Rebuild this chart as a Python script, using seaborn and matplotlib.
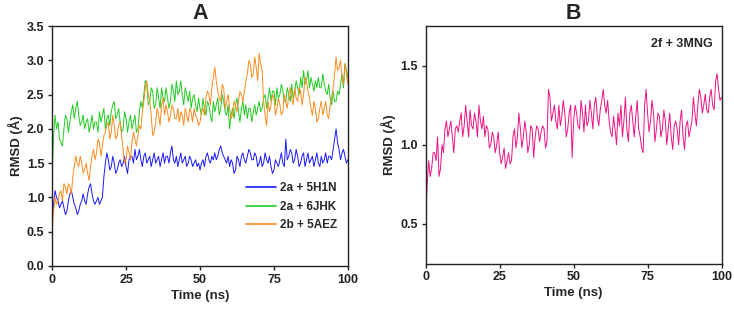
import numpy as np
import pandas as pd
import matplotlib
matplotlib.use("Agg")
import matplotlib.pyplot as plt
import seaborn as sns

# readings at whole nanoseconds (0..100) and at half nanoseconds (0.5..99.5)
time_whole = [float(t) for t in range(0, 101)]
time_half = [t + 0.5 for t in range(0, 100)]

blue_whole = [0.65, 1.10, 0.95, 0.90, 0.85, 0.80, 1.05, 1.00, 0.85, 0.80,
              0.95, 0.95, 1.05, 1.20, 0.95, 0.95, 0.90, 1.00, 1.50, 1.55,
              1.45, 1.50, 1.40, 1.55, 1.50, 1.45, 1.55, 1.60, 1.70, 1.60,
              1.55, 1.60, 1.50, 1.60, 1.55, 1.50, 1.60, 1.55, 1.50, 1.60,
              1.65, 1.55, 1.60, 1.55, 1.50, 1.60, 1.50, 1.55, 1.50, 1.45,
              1.40, 1.55, 1.60, 1.55, 1.60, 1.65, 1.60, 1.75, 1.60, 1.50,
              1.45, 1.50, 1.40, 1.55, 1.60, 1.55, 1.60, 1.65, 1.55, 1.60,
              1.50, 1.45, 1.65, 1.50, 1.45, 1.40, 1.50, 1.55, 1.50, 1.85,
              1.60, 1.65, 1.55, 1.60, 1.50, 1.65, 1.55, 1.50, 1.60, 1.55,
              1.50, 1.60, 1.55, 1.50, 1.60, 1.70, 2.00, 1.70, 1.65, 1.60,
              1.55]
blue_half = [0.90, 1.00, 0.85, 0.95, 0.75, 0.95, 1.10, 0.90, 0.75, 0.90,
             1.05, 0.90, 1.15, 1.05, 0.90, 1.00, 0.95, 1.30, 1.65, 1.40,
             1.60, 1.35, 1.50, 1.45, 1.60, 1.35, 1.60, 1.50, 1.55, 1.70,
             1.45, 1.65, 1.55, 1.45, 1.65, 1.55, 1.45, 1.65, 1.60, 1.50,
             1.75, 1.50, 1.45, 1.65, 1.55, 1.45, 1.60, 1.45, 1.55, 1.50,
             1.50, 1.45, 1.65, 1.50, 1.55, 1.55, 1.70, 1.65, 1.55, 1.60,
             1.55, 1.35, 1.60, 1.45, 1.65, 1.50, 1.70, 1.55, 1.65, 1.45,
             1.60, 1.50, 1.55, 1.60, 1.35, 1.55, 1.45, 1.65, 1.45, 1.55,
             1.70, 1.50, 1.70, 1.45, 1.60, 1.45, 1.65, 1.55, 1.45, 1.65,
             1.45, 1.50, 1.65, 1.60, 1.55, 1.85, 1.80, 1.55, 1.70, 1.50]

green_whole = [1.30, 2.20, 2.10, 1.80, 2.00, 2.15, 2.10, 2.35, 2.30, 2.20,
               2.10, 2.00, 2.15, 2.05, 2.00, 2.10, 2.25, 2.20, 2.00, 2.20,
               2.25, 2.40, 2.20, 2.10, 2.00, 2.15, 2.10, 2.00, 2.20, 2.00,
               2.40, 2.50, 2.65, 2.40, 2.55, 2.35, 2.45, 2.60, 2.40, 2.45,
               2.40, 2.55, 2.70, 2.55, 2.50, 2.60, 2.40, 2.30, 2.50, 2.25,
               2.30, 2.45, 2.20, 2.35, 2.10, 2.25, 2.45, 2.30, 2.40, 2.20,
               2.00, 2.30, 2.35, 2.25, 2.30, 2.20, 2.15, 2.30, 2.25, 2.20,
               2.40, 2.30, 2.50, 2.45, 2.40, 2.55, 2.60, 2.50, 2.55, 2.40,
               2.50, 2.65, 2.55, 2.60, 2.75, 2.85, 2.70, 2.60, 2.65, 2.70,
               2.75, 2.60, 2.65, 2.50, 2.45, 2.55, 2.40, 2.50, 2.80, 2.95,
               2.75]
green_half = [1.90, 2.00, 1.85, 1.75, 2.20, 1.95, 2.25, 2.15, 2.40, 2.05,
              2.20, 2.10, 1.95, 2.20, 2.10, 1.95, 2.10, 2.30, 2.15, 2.05,
              2.35, 2.15, 2.30, 1.95, 2.25, 1.95, 2.20, 2.10, 1.95, 2.25,
              2.30, 2.70, 2.35, 2.60, 2.30, 2.60, 2.30, 2.45, 2.60, 2.30,
              2.65, 2.40, 2.50, 2.70, 2.35, 2.50, 2.55, 2.45, 2.35, 2.45,
              2.20, 2.30, 2.40, 2.20, 2.40, 2.35, 2.20, 2.50, 2.25, 2.35,
              2.20, 2.15, 2.45, 2.10, 2.40, 2.35, 2.30, 2.10, 2.35, 2.30,
              2.25, 2.45, 2.30, 2.60, 2.55, 2.35, 2.45, 2.65, 2.40, 2.60,
              2.40, 2.45, 2.70, 2.50, 2.60, 2.65, 2.85, 2.75, 2.55, 2.60,
              2.60, 2.80, 2.55, 2.65, 2.35, 2.40, 2.55, 2.65, 2.60, 2.85]

orange_whole = [0.50, 1.00, 0.95, 1.10, 1.20, 1.05, 1.15, 1.30, 1.60, 1.45,
                1.50, 1.40, 1.35, 1.45, 1.70, 1.65, 1.80, 1.75, 1.95, 2.10,
                1.95, 2.05, 1.90, 2.10, 1.70, 1.55, 1.65, 1.80, 1.85, 1.90,
                2.00, 2.40, 2.70, 2.40, 1.90, 2.10, 2.20, 2.35, 2.20, 2.25,
                2.20, 2.30, 2.15, 2.10, 2.20, 2.30, 2.10, 2.25, 2.30, 2.15,
                2.10, 2.30, 2.45, 2.50, 2.60, 2.90, 2.55, 2.40, 2.60, 2.40,
                2.30, 2.20, 2.35, 2.40, 2.50, 2.55, 2.80, 2.95, 2.80, 2.90,
                3.10, 2.85, 2.20, 2.40, 2.35, 2.45, 2.30, 2.35, 2.25, 2.40,
                2.50, 2.45, 2.60, 2.40, 2.55, 2.50, 2.70, 2.45, 2.20, 2.30,
                2.15, 2.40, 2.30, 2.20, 2.35, 2.60, 3.05, 2.90, 2.75, 2.95,
                2.65]
orange_half = [0.80, 0.90, 1.05, 0.95, 1.15, 1.20, 1.05, 1.45, 1.50, 1.60,
               1.35, 1.50, 1.25, 1.60, 1.55, 1.85, 1.60, 1.90, 2.05, 1.85,
               2.20, 1.85, 2.05, 1.90, 1.50, 1.75, 1.55, 1.95, 1.75, 2.05,
               2.25, 2.60, 2.50, 2.20, 1.95, 2.30, 2.05, 2.45, 2.35, 2.10,
               2.35, 2.15, 2.30, 2.25, 2.05, 2.20, 2.30, 2.10, 2.20, 2.05,
               2.25, 2.20, 2.55, 2.35, 2.75, 2.70, 2.45, 2.65, 2.30, 2.50,
               2.15, 2.40, 2.25, 2.55, 2.40, 2.70, 3.00, 2.75, 3.05, 2.70,
               2.95, 2.40, 2.05, 2.25, 2.50, 2.20, 2.45, 2.20, 2.50, 2.30,
               2.60, 2.35, 2.45, 2.60, 2.35, 2.75, 2.55, 2.30, 2.40, 2.10,
               2.30, 2.20, 2.40, 2.15, 2.45, 2.80, 2.85, 3.00, 2.65, 2.80]

pink_whole = [0.55, 0.90, 0.85, 0.95, 1.05, 0.85, 0.95, 1.15, 1.10, 1.05,
              1.10, 1.08, 1.20, 1.12, 1.15, 1.22, 1.10, 1.15, 1.25, 1.10,
              1.05, 1.10, 1.00, 1.05, 1.00, 0.95, 0.92, 0.85, 0.95, 0.90,
              1.10, 1.05, 1.10, 1.05, 1.08, 1.00, 1.10, 1.05, 1.10, 1.08,
              1.10, 1.02, 1.30, 1.20, 1.15, 1.25, 1.18, 1.20, 1.10, 1.25,
              1.15, 1.20, 1.10, 1.20, 1.25, 1.15, 1.20, 1.25, 1.18, 1.22,
              1.35, 1.20, 1.15, 1.05, 1.10, 1.20, 1.25, 1.15, 1.10, 1.20,
              1.15, 1.18, 1.10, 0.98, 1.25, 1.20, 1.15, 1.20, 1.10, 1.18,
              1.10, 1.15, 1.10, 1.05, 1.12, 1.10, 1.15, 1.05, 1.12, 1.05,
              1.15, 1.20, 1.25, 1.30, 1.25, 1.22, 1.30, 1.25, 1.40, 1.35,
              1.30]
pink_half = [0.75, 0.80, 0.95, 0.90, 0.80, 1.00, 1.10, 1.05, 1.15, 0.95,
             1.12, 1.15, 1.05, 1.25, 1.05, 1.12, 1.20, 1.05, 1.15, 1.18,
             1.12, 0.98, 1.08, 0.95, 1.08, 0.88, 0.98, 0.90, 0.88, 1.05,
             0.98, 1.20, 0.98, 1.15, 0.95, 1.12, 0.92, 1.12, 1.02, 1.12,
             0.98, 1.35, 1.15, 1.25, 1.10, 1.12, 1.28, 1.05, 1.20, 0.92,
             1.25, 1.12, 1.28, 1.08, 1.12, 1.28, 1.10, 1.30, 1.12, 1.28,
             1.25, 1.28, 1.08, 1.18, 1.00, 1.12, 1.05, 1.30, 1.02, 1.25,
             1.05, 1.28, 1.05, 0.95, 1.35, 1.08, 1.28, 1.02, 1.20, 1.05,
             1.22, 1.00, 1.20, 0.97, 1.15, 1.00, 1.22, 0.97, 1.15, 1.10,
             1.30, 1.12, 1.35, 1.20, 1.32, 1.20, 1.35, 1.22, 1.45, 1.28]

labels_a = ["2a + 5H1N", "2a + 6JHK", "2b + 5AEZ"]
colors_a = ["#1a1aff", "#22cc22", "#ff8a1f"]
label_b = "2f + 3MNG"
color_b = "#ee1282"


def series_frame(whole, half, name):
    t = time_whole + time_half
    v = whole + half
    d = pd.DataFrame({"time": t, "rmsd": v})
    d = d.sort_values("time").reset_index(drop=True)
    d["system"] = name
    return d


df_a = pd.concat([series_frame(blue_whole, blue_half, labels_a[0]),
                  series_frame(green_whole, green_half, labels_a[1]),
                  series_frame(orange_whole, orange_half, labels_a[2])],
                 ignore_index=True)
df_b = series_frame(pink_whole, pink_half, label_b)

sns.set_theme(style="white")
plt.rcParams["font.family"] = ["Liberation Sans", "DejaVu Sans"]
plt.rcParams["font.weight"] = "bold"

fig = plt.figure(figsize=(7.34, 3.10), dpi=100)
ax1 = fig.add_axes([0.071, 0.142, 0.403, 0.774])
ax2 = fig.add_axes([0.580, 0.150, 0.403, 0.766])

sns.lineplot(data=df_a, x="time", y="rmsd", hue="system", palette=colors_a,
             hue_order=labels_a, ax=ax1, linewidth=0.7, legend=True,
             sort=False, estimator=None)
sns.lineplot(data=df_b, x="time", y="rmsd", color=color_b, ax=ax2,
             linewidth=0.7, sort=False, estimator=None)

ax1.set_xlim(0, 100)
ax1.set_ylim(0, 3.5)
yt1 = np.arange(0, 3.51, 0.5)
ax1.set_yticks(yt1)
ax1.set_yticklabels([f"{v:.1f}" for v in yt1])
ax2.set_xlim(0, 100)
ax2.set_ylim(0.25, 1.75)
ax2.set_yticks([0.5, 1.0, 1.5])
ax2.set_yticklabels(["0.5", "1.0", "1.5"])

for ax, title in [(ax1, "A"), (ax2, "B")]:
    ax.set_xticks([0, 25, 50, 75, 100])
    ax.set_xlabel("Time (ns)", fontsize=9.5, fontweight="bold", labelpad=3)
    ax.set_ylabel("RMSD (Å)", fontsize=9.5, fontweight="bold", labelpad=3)
    ax.set_title(title, fontsize=15.5, fontweight="bold", pad=5)
    for s in ax.spines.values():
        s.set_color("#222222")
        s.set_linewidth(1.0)
    ax.tick_params(axis="both", which="both", direction="out", length=3,
                   width=1, colors="#222222", labelsize=9, bottom=True, left=True,
                   pad=2.5)
    for lab in ax.get_xticklabels() + ax.get_yticklabels():
        lab.set_fontweight("bold")

leg = ax1.legend(loc="lower right", bbox_to_anchor=(1.0, 0.10), frameon=False,
                 fontsize=8.5, handlelength=2.6, handletextpad=0.3,
                 labelspacing=0.55)
for t in leg.get_texts():
    t.set_fontweight("bold")
for line in leg.get_lines():
    line.set_linewidth(1.2)

ax2.text(0.97, 0.95, label_b, transform=ax2.transAxes, ha="right", va="top",
         fontsize=9, fontweight="bold")

fig.savefig("out.png", dpi=100, facecolor="white")
